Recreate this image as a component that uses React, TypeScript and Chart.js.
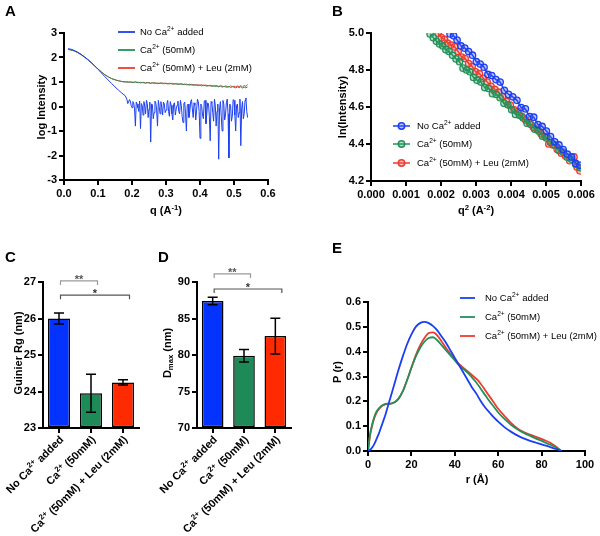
import React, { useEffect, useRef } from "react";
import { Chart, registerables } from "chart.js";

Chart.register(...registerables);

const FONT = '"Liberation Sans", Arial, Helvetica, sans-serif';
Chart.defaults.font.family = FONT;

// ---------------- shared labels ----------------
const seriesLabels = ["No Ca^{2+} added", "Ca^{2+} (50mM)", "Ca^{2+} (50mM) + Leu (2mM)"];
const lineColors = ["#1B3FF0", "#23905A", "#EE3B2F"];
const pointFills = ["rgba(60,90,255,0.35)", "rgba(40,160,95,0.35)", "rgba(240,80,70,0.35)"];
const barColors = ["#0433FF", "#1D8A58", "#FF2A00"];

// ---------------- Panel A: log intensity vs q ----------------
// blue (no Ca2+) is sampled more densely in its noisy tail
const qBlueA = [
  0.012, 0.02, 0.03, 0.04, 0.05, 0.06, 0.07, 0.08, 0.09, 0.1, 0.11, 0.12, 0.13, 0.14, 0.15, 0.16, 0.17, 0.18,
  0.185, 0.1875, 0.19, 0.1925, 0.195, 0.1975, 0.2, 0.2025, 0.205, 0.2075, 0.21, 0.2125, 0.215, 0.2175,
  0.22, 0.2225, 0.225, 0.2275, 0.23, 0.2325, 0.235, 0.2375, 0.24, 0.2425, 0.245, 0.2475, 0.25, 0.2525,
  0.255, 0.2575, 0.26, 0.2625, 0.265, 0.2675, 0.27, 0.2725, 0.275, 0.2775, 0.28, 0.2825, 0.285, 0.2875,
  0.29, 0.2925, 0.295, 0.2975, 0.3, 0.3025, 0.305, 0.3075, 0.31, 0.3125, 0.315, 0.3175, 0.32, 0.3225,
  0.325, 0.3275, 0.33, 0.3325, 0.335, 0.3375, 0.34, 0.3425, 0.345, 0.3475, 0.35, 0.3525, 0.355, 0.3575,
  0.36, 0.3625, 0.365, 0.3675, 0.37, 0.3725, 0.375, 0.3775, 0.38, 0.3825, 0.385, 0.3875, 0.39, 0.3925,
  0.395, 0.3975, 0.4, 0.4025, 0.405, 0.4075, 0.41, 0.4125, 0.415, 0.4175, 0.42, 0.4225, 0.425, 0.4275,
  0.43, 0.4325, 0.435, 0.4375, 0.44, 0.4425, 0.445, 0.4475, 0.45, 0.4525, 0.455, 0.4575, 0.46, 0.4625,
  0.465, 0.4675, 0.47, 0.4725, 0.475, 0.4775, 0.48, 0.4825, 0.485, 0.4875, 0.49, 0.4925, 0.495, 0.4975,
  0.5, 0.5025, 0.505, 0.5075, 0.51, 0.5125, 0.515, 0.5175, 0.52, 0.5225, 0.525, 0.5275, 0.53, 0.5325,
  0.535, 0.5375, 0.54,
];
const logBlue = [
  2.36, 2.34, 2.29, 2.22, 2.13, 2.03, 1.92, 1.8, 1.66, 1.52, 1.37, 1.22, 1.08, 0.94, 0.8, 0.67, 0.55, 0.44,
  0.3, 0.12, 0.18, 0.28, 0.22, 0.05, -0.05, 0.2, 0.15, -0.1, -0.8, 0.18, 0.1, -0.05,
  -0.2, 0.22, -0.9, 0.12, 0.05, -0.35, 0.2, 0.02, -0.3, 0.25, 0.12, -0.45, -0.1, 0.18,
  -1.45, 0.1, 0.08, -0.5, -0.25, 0.22, 0.15, -0.15, -0.8, 0.25, 0.0, -0.3, 0.2, -0.05,
  -0.35, 0.18, 0.1, -0.25, -0.15, 0.12, 0.25, -0.2, -0.4, 0.2, 0.05, -0.3, -0.55, 0.1,
  0.15, -0.35, -0.1, 0.05, 0.22, -0.2, -0.3, 0.25, 0.05, -0.4, -0.65, 0.12, 0.18, -0.3,
  -1.0, 0.05, 0.1, -0.45, -0.2, 0.2, 0.28, -0.1, -0.45, 0.15, 0.05, -0.55, -0.15, 0.3,
  0.2, -0.2, -1.3, 0.1, 0.0, -0.35, -0.5, 0.22, 0.25, -0.7, -0.3, 0.15, 0.1, -0.4,
  -1.4, 0.2, 0.15, -0.25, -0.6, 0.3, 0.05, -0.8, -0.2, 0.1, -2.15, -0.1, 0.2, -0.4,
  -1.0, 0.25, 0.1, -0.55, -0.35, 0.15, 0.3, -0.3, -2.1, 0.1, 0.05, -0.6, -0.4, 0.28,
  0.25, -0.35, -1.0, 0.05, 0.1, -0.45, -0.25, 0.3, -1.6, -0.1, 0.2, -0.5, -0.3, 0.25,
  0.35, -0.2, -0.45,
];
const qA = [
  0.012, 0.02, 0.03, 0.04, 0.05, 0.06, 0.07, 0.08, 0.09, 0.1, 0.11, 0.12, 0.13, 0.14, 0.15, 0.16, 0.17, 0.18,
  0.185, 0.19, 0.195, 0.2, 0.205, 0.21, 0.215, 0.22, 0.225, 0.23, 0.235, 0.24, 0.245, 0.25, 0.255, 0.26,
  0.265, 0.27, 0.275, 0.28, 0.285, 0.29, 0.295, 0.3, 0.305, 0.31, 0.315, 0.32, 0.325, 0.33, 0.335, 0.34,
  0.345, 0.35, 0.355, 0.36, 0.365, 0.37, 0.375, 0.38, 0.385, 0.39, 0.395, 0.4, 0.405, 0.41, 0.415, 0.42,
  0.425, 0.43, 0.435, 0.44, 0.445, 0.45, 0.455, 0.46, 0.465, 0.47, 0.475, 0.48, 0.485, 0.49, 0.495, 0.5,
  0.505, 0.51, 0.515, 0.52, 0.525, 0.53, 0.535, 0.54,
];
const logGreen = [
  2.33, 2.31, 2.27, 2.2, 2.12, 2.02, 1.91, 1.79, 1.66, 1.53, 1.41, 1.3, 1.21, 1.14, 1.09, 1.05, 1.02, 1.0,
  1.0, 0.99, 1.01, 0.98, 0.99, 1.0, 0.97, 0.99, 0.96, 0.98,
  0.97, 0.95, 0.98, 0.96, 0.94, 0.97, 0.95, 0.96, 0.93, 0.95,
  0.96, 0.93, 0.95, 0.94, 0.92, 0.95, 0.93, 0.91, 0.94, 0.92,
  0.9, 0.93, 0.91, 0.89, 0.92, 0.88, 0.9, 0.87, 0.9, 0.86,
  0.89, 0.87, 0.85, 0.88, 0.84, 0.87, 0.85, 0.83, 0.86, 0.84,
  0.82, 0.85, 0.81, 0.84, 0.8, 0.83, 0.79, 0.82, 0.8, 0.78,
  0.82, 0.77, 0.81, 0.79, 0.76, 0.8, 0.77, 0.81, 0.75, 0.79,
  0.76, 0.8,
];
const logRed = [
  2.33, 2.31, 2.27, 2.2, 2.12, 2.02, 1.91, 1.79, 1.66, 1.53, 1.41, 1.3, 1.21, 1.14, 1.09, 1.05, 1.02, 1.01,
  1.01, 1.0, 0.99, 1.0, 0.98, 1.01, 0.99, 0.97, 0.99, 0.97,
  0.99, 0.96, 0.97, 0.98, 0.95, 0.96, 0.97, 0.94, 0.96, 0.94,
  0.95, 0.96, 0.93, 0.95, 0.94, 0.92, 0.95, 0.93, 0.91, 0.94,
  0.92, 0.9, 0.93, 0.91, 0.89, 0.92, 0.88, 0.91, 0.88, 0.9,
  0.87, 0.89, 0.88, 0.86, 0.89, 0.85, 0.88, 0.86, 0.84, 0.87,
  0.85, 0.83, 0.86, 0.84, 0.82, 0.85, 0.83, 0.81, 0.84, 0.82,
  0.8, 0.84, 0.81, 0.83, 0.8, 0.84, 0.81, 0.85, 0.8, 0.86,
  0.82, 0.9,
];

// ---------------- Panel B: Guinier plot ----------------
const q2Blue = [
  0.00226, 0.00236, 0.00246, 0.00257, 0.00268, 0.00279, 0.0029, 0.00301, 0.00312, 0.00323, 0.00334,
  0.00345, 0.00357, 0.00369, 0.00381, 0.00393, 0.00405, 0.00417, 0.00429, 0.00441, 0.00453, 0.00465,
  0.00477, 0.00489, 0.00501, 0.00513, 0.00525, 0.00537, 0.00549, 0.00561, 0.00573, 0.00585, 0.00597,
];
const lnBlue = [
  4.995, 4.985, 4.962, 4.93, 4.918, 4.9, 4.88, 4.845, 4.832, 4.815, 4.776,
  4.77, 4.748, 4.735, 4.69, 4.668, 4.655, 4.636, 4.597, 4.59, 4.548, 4.545,
  4.505, 4.495, 4.47, 4.44, 4.412, 4.395, 4.37, 4.345, 4.33, 4.295, 4.285,
];
const q2Green = [
  0.00169, 0.00178, 0.00187, 0.00196, 0.00205, 0.00214, 0.00223, 0.00233, 0.00243, 0.00253, 0.00263,
  0.00273, 0.00283, 0.00293, 0.00303, 0.00314, 0.00325, 0.00336, 0.00347, 0.00358, 0.00369, 0.0038,
  0.00391, 0.00402, 0.00413, 0.00424, 0.00435, 0.00446, 0.00457, 0.00468, 0.00479, 0.0049, 0.00501,
  0.00513, 0.00525, 0.00537, 0.00549, 0.00561, 0.00573, 0.00585, 0.00597,
];
const lnGreen = [
  4.995, 4.975, 4.955, 4.94, 4.93, 4.91, 4.9, 4.88, 4.86, 4.845, 4.81,
  4.8, 4.79, 4.76, 4.745, 4.735, 4.705, 4.7, 4.672, 4.668, 4.65, 4.62,
  4.612, 4.585, 4.56, 4.556, 4.54, 4.512, 4.505, 4.48, 4.47, 4.442, 4.432,
  4.408, 4.395, 4.365, 4.355, 4.328, 4.318, 4.29, 4.272,
];
const q2Red = [
  0.00192, 0.00201, 0.0021, 0.00219, 0.00229, 0.00239, 0.00249, 0.00259, 0.00269, 0.00279, 0.00289,
  0.00299, 0.0031, 0.00321, 0.00332, 0.00343, 0.00354, 0.00365, 0.00376, 0.00387, 0.00398, 0.00409,
  0.0042, 0.00431, 0.00442, 0.00453, 0.00464, 0.00475, 0.00486, 0.00497, 0.00508, 0.0052, 0.00532,
  0.00544, 0.00556, 0.00568, 0.0058, 0.00589, 0.00597,
];
const lnRed = [
  4.998, 4.975, 4.965, 4.945, 4.935, 4.925, 4.9, 4.87, 4.862, 4.835, 4.82,
  4.79, 4.78, 4.755, 4.735, 4.712, 4.695, 4.68, 4.655, 4.63, 4.61, 4.585,
  4.575, 4.55, 4.53, 4.515, 4.49, 4.478, 4.455, 4.44, 4.4, 4.395, 4.372,
  4.35, 4.335, 4.31, 4.33, 4.275, 4.255,
];

// ---------------- Panel C / D: bars ----------------
const rgMean = [26.0, 23.95, 24.25];
const rgErr = [0.15, 0.52, 0.07];
const dmaxMean = [87.4, 79.9, 82.6];
const dmaxErr = [0.5, 0.85, 2.45];

// ---------------- Panel E: P(r) ----------------
const rE = [
  0, 1, 2, 3, 4, 5, 6, 7, 8, 9, 10, 12, 14, 16, 18, 20, 22, 24, 26, 28, 30, 32, 34, 36, 38, 40, 42, 44, 46,
  48, 50, 52, 54, 56, 58, 60, 63, 66, 69, 72, 75, 78, 81, 84, 87, 89,
];
const pBlue = [
  0, 0.005, 0.015, 0.03, 0.05, 0.07, 0.095, 0.12, 0.145, 0.175, 0.205, 0.265, 0.325, 0.38, 0.43, 0.47,
  0.5, 0.515, 0.52, 0.515, 0.503, 0.485, 0.46, 0.435, 0.405, 0.375, 0.345, 0.315, 0.285, 0.255, 0.23,
  0.2, 0.175, 0.155, 0.135, 0.118, 0.095, 0.077, 0.062, 0.05, 0.04, 0.032, 0.024, 0.016, 0.007, 0,
];
const pGreen = [
  0, 0.07, 0.11, 0.14, 0.16, 0.172, 0.18, 0.186, 0.19, 0.191, 0.19, 0.195, 0.21, 0.24, 0.285, 0.335,
  0.38, 0.415, 0.44, 0.455, 0.458, 0.445, 0.425, 0.405, 0.385, 0.365, 0.345, 0.33, 0.315, 0.295, 0.275,
  0.25, 0.225, 0.2, 0.178, 0.155, 0.128, 0.105, 0.087, 0.072, 0.06, 0.048, 0.037, 0.025, 0.012, 0,
];
const pRed = [
  0, 0.065, 0.105, 0.135, 0.155, 0.168, 0.178, 0.184, 0.188, 0.19, 0.19, 0.195, 0.21, 0.24, 0.285, 0.335,
  0.385, 0.425, 0.455, 0.475, 0.478, 0.465, 0.44, 0.415, 0.39, 0.37, 0.35, 0.335, 0.32, 0.305, 0.29,
  0.27, 0.245, 0.22, 0.195, 0.17, 0.14, 0.112, 0.09, 0.075, 0.065, 0.055, 0.045, 0.033, 0.015, 0,
];

// ---------------- helpers ----------------
type Seg = { t: string; k: number };
function parseRich(s: string): Seg[] {
  const out: Seg[] = [];
  const re = /([\^_])\{([^}]*)\}/g;
  let last = 0;
  let m: RegExpExecArray | null;
  while ((m = re.exec(s))) {
    if (m.index > last) out.push({ t: s.slice(last, m.index), k: 0 });
    out.push({ t: m[2], k: m[1] === "^" ? 1 : -1 });
    last = m.index + m[0].length;
  }
  if (last < s.length) out.push({ t: s.slice(last), k: 0 });
  return out;
}

function drawRich(
  ctx: CanvasRenderingContext2D,
  s: string,
  x: number,
  y: number,
  o: { size: number; bold?: boolean; align?: string; rot?: number; color?: string }
) {
  const segs = parseRich(s);
  const wt = o.bold ? "bold " : "";
  const fontFor = (k: number) => `${wt}${k ? o.size * 0.7 : o.size}px ${FONT}`;
  let total = 0;
  for (const sg of segs) {
    ctx.font = fontFor(sg.k);
    total += ctx.measureText(sg.t).width;
  }
  ctx.save();
  ctx.translate(x, y);
  if (o.rot) ctx.rotate(o.rot);
  ctx.fillStyle = o.color || "#000";
  ctx.textBaseline = "middle";
  ctx.textAlign = "left";
  let cx = o.align === "center" ? -total / 2 : o.align === "right" ? -total : 0;
  for (const sg of segs) {
    ctx.font = fontFor(sg.k);
    const dy = sg.k === 1 ? -o.size * 0.32 : sg.k === -1 ? o.size * 0.3 : 0;
    ctx.fillText(sg.t, cx, dy);
    cx += ctx.measureText(sg.t).width;
  }
  ctx.restore();
}

function drawLegend(
  ctx: CanvasRenderingContext2D,
  x1: number,
  x2: number,
  tx: number,
  ys: number[],
  markers: boolean
) {
  ys.forEach((y, i) => {
    ctx.save();
    ctx.strokeStyle = lineColors[i];
    ctx.lineWidth = markers ? 1.5 : 1.8;
    ctx.beginPath();
    ctx.moveTo(x1, y);
    ctx.lineTo(x2, y);
    ctx.stroke();
    if (markers) {
      ctx.fillStyle = pointFills[i];
      ctx.beginPath();
      ctx.arc((x1 + x2) / 2, y, 3.2, 0, Math.PI * 2);
      ctx.fill();
      ctx.stroke();
    }
    ctx.restore();
    drawRich(ctx, seriesLabels[i], tx, y, { size: 9.5 });
  });
}

function axis(extra: any, fixed: { w?: number; h?: number }) {
  return {
    border: { display: true, color: "#000", width: 2 },
    grid: {
      display: true,
      drawOnChartArea: false,
      drawTicks: true,
      tickLength: 5,
      color: "#000",
      lineWidth: 2,
    },
    afterFit: (s: any) => {
      if (fixed.w !== undefined) s.width = fixed.w;
      if (fixed.h !== undefined) s.height = fixed.h;
    },
    ...extra,
    ticks: {
      color: "#000",
      font: { family: FONT, size: 11, weight: "bold" },
      padding: 2,
      ...(extra.ticks || {}),
    },
  };
}

const baseOpts = {
  animation: false,
  responsive: false,
  events: [],
  plugins: { legend: { display: false }, tooltip: { enabled: false }, title: { display: false } },
};

function xy(xs: number[], ys: number[]) {
  return xs.map((x, i) => ({ x, y: ys[i] }));
}

// ---------------- chart configs ----------------
function makeA(): any {
  const sets = [
    [qBlueA, logBlue],
    [qA, logGreen],
    [qA, logRed],
  ];
  const ds = sets.map((s, i) => ({
    data: xy(s[0], s[1]),
    borderColor: lineColors[i],
    borderWidth: 1,
    pointRadius: 0,
    tension: 0,
  }));
  return {
    type: "line",
    data: { datasets: ds },
    options: {
      ...baseOpts,
      layout: { padding: { left: 34, right: 32, top: 33, bottom: 35 } },
      scales: {
        x: axis(
          { type: "linear", min: 0, max: 0.6, ticks: { stepSize: 0.1, callback: (v: any) => Number(v).toFixed(1) } },
          { h: 30 }
        ),
        y: axis({ type: "linear", min: -3, max: 3, ticks: { stepSize: 1 } }, { w: 30 }),
      },
    },
    plugins: [
      {
        id: "ovA",
        afterDraw(chart: any) {
          const ctx = chart.ctx;
          drawRich(ctx, "A", 5, 12, { size: 15, bold: true });
          drawRich(ctx, "log Intensity", 42, 107, { size: 11, bold: true, align: "center", rot: -Math.PI / 2 });
          drawRich(ctx, "q (A^{-1})", 166, 211, { size: 11, bold: true, align: "center" });
          drawLegend(ctx, 118, 135, 140, [32, 50, 68], false);
        },
      },
    ],
  };
}

function makeB(): any {
  const sets = [
    [q2Blue, lnBlue],
    [q2Green, lnGreen],
    [q2Red, lnRed],
  ];
  const ds = sets.map((s, i) => ({
    data: xy(s[0], s[1]),
    borderColor: lineColors[i],
    borderWidth: 1.5,
    pointRadius: 3.2,
    pointBorderWidth: 1.3,
    pointBorderColor: lineColors[i],
    pointBackgroundColor: pointFills[i],
    tension: 0,
  }));
  return {
    type: "line",
    data: { datasets: ds },
    options: {
      ...baseOpts,
      layout: { padding: { left: 35, right: 19, top: 33, bottom: 29 } },
      scales: {
        x: axis(
          { type: "linear", min: 0, max: 0.006, ticks: { stepSize: 0.001, callback: (v: any) => Number(v).toFixed(3) } },
          { h: 30 }
        ),
        y: axis(
          { type: "linear", min: 4.2, max: 5.0, ticks: { stepSize: 0.2, callback: (v: any) => Number(v).toFixed(1) } },
          { w: 36 }
        ),
      },
    },
    plugins: [
      {
        id: "ovB",
        afterDraw(chart: any) {
          const ctx = chart.ctx;
          drawRich(ctx, "B", 32, 12, { size: 15, bold: true });
          drawRich(ctx, "ln(Intensity)", 43, 107, { size: 11, bold: true, align: "center", rot: -Math.PI / 2 });
          drawRich(ctx, "q^{2} (A^{-2})", 176, 211, { size: 11, bold: true, align: "center" });
          drawLegend(ctx, 93, 110, 117, [126, 144, 163], true);
        },
      },
    ],
  };
}

function bracket(
  ctx: CanvasRenderingContext2D,
  x1: number,
  x2: number,
  y: number,
  lineColor: string,
  label: string,
  textColor: string
) {
  ctx.save();
  ctx.strokeStyle = lineColor;
  ctx.lineWidth = 1.2;
  ctx.beginPath();
  ctx.moveTo(x1, y + 4);
  ctx.lineTo(x1, y);
  ctx.lineTo(x2, y);
  ctx.lineTo(x2, y + 4);
  ctx.stroke();
  ctx.fillStyle = textColor;
  ctx.font = `bold 11px ${FONT}`;
  ctx.textAlign = "center";
  ctx.textBaseline = "alphabetic";
  ctx.fillText(label, (x1 + x2) / 2, y + 2);
  ctx.restore();
}

function makeBar(
  letter: string,
  title: string,
  means: number[],
  errs: number[],
  min: number,
  max: number,
  step: number,
  pad: any,
  titleX: number,
  b1: number,
  b2: number
): any {
  return {
    type: "bar",
    data: {
      labels: seriesLabels,
      datasets: [
        {
          data: means,
          backgroundColor: barColors,
          borderColor: "#000",
          borderWidth: 1.5,
          borderSkipped: false,
          barPercentage: 0.69,
          categoryPercentage: 1,
          base: min,
        },
      ],
    },
    options: {
      ...baseOpts,
      layout: { padding: pad },
      scales: {
        x: axis(
          {
            type: "category",
            z: 1,
            grid: { display: true, drawOnChartArea: false, drawTicks: true, tickLength: 5, color: "#000", lineWidth: 2, offset: false },
            ticks: { display: false },
          },
          { h: 30 }
        ),
        y: axis({ type: "linear", min, max, ticks: { stepSize: step } }, { w: 25 }),
      },
    },
    plugins: [
      {
        id: "ov" + letter,
        afterDatasetsDraw(chart: any) {
          const ctx = chart.ctx;
          const meta = chart.getDatasetMeta(0);
          const ys = chart.scales.y;
          ctx.save();
          ctx.strokeStyle = "#000";
          ctx.lineWidth = 1.5;
          meta.data.forEach((el: any, i: number) => {
            const x = el.x;
            const yt = ys.getPixelForValue(means[i] + errs[i]);
            const yb = ys.getPixelForValue(means[i] - errs[i]);
            ctx.beginPath();
            ctx.moveTo(x, yt);
            ctx.lineTo(x, yb);
            ctx.moveTo(x - 5, yt);
            ctx.lineTo(x + 5, yt);
            ctx.moveTo(x - 5, yb);
            ctx.lineTo(x + 5, yb);
            ctx.stroke();
          });
          ctx.restore();
        },
        afterDraw(chart: any) {
          const ctx = chart.ctx;
          const meta = chart.getDatasetMeta(0);
          const ys = chart.scales.y;
          const area = chart.chartArea;
          const cx = meta.data.map((el: any) => el.x);
          drawRich(ctx, letter, letter === "C" ? 5 : 8, 13, { size: 15, bold: true });
          drawRich(ctx, title, titleX, 108, { size: 11, bold: true, align: "center", rot: -Math.PI / 2 });
          seriesLabels.forEach((lab, i) => {
            drawRich(ctx, lab, cx[i] + 3, area.bottom + 10, {
              size: 11,
              bold: true,
              align: "right",
              rot: -Math.PI / 4,
            });
          });
          bracket(ctx, cx[0] + 1.5, cx[1] + 6.5, ys.getPixelForValue(b1), "#9a9a9a", "**", "#555");
          bracket(ctx, cx[0] + 1.5, cx[2] + 6.5, ys.getPixelForValue(b2), "#555", "*", "#333");
        },
      },
    ],
  };
}

function makeE(): any {
  const ds = [pBlue, pGreen, pRed].map((arr, i) => ({
    data: xy(rE, arr),
    borderColor: lineColors[i],
    borderWidth: 1.8,
    pointRadius: 0,
    cubicInterpolationMode: "monotone",
  }));
  return {
    type: "line",
    data: { datasets: ds },
    options: {
      ...baseOpts,
      layout: { padding: { left: 38, right: 15, top: 62, bottom: 55 } },
      scales: {
        x: axis({ type: "linear", min: 0, max: 100, ticks: { stepSize: 20 } }, { h: 30 }),
        y: axis(
          { type: "linear", min: 0, max: 0.6, ticks: { stepSize: 0.1, callback: (v: any) => Number(v).toFixed(1) } },
          { w: 30 }
        ),
      },
    },
    plugins: [
      {
        id: "ovE",
        afterDraw(chart: any) {
          const ctx = chart.ctx;
          drawRich(ctx, "E", 32, 9, { size: 15, bold: true });
          drawRich(ctx, "P (r)", 38, 132, { size: 11, bold: true, align: "center", rot: -Math.PI / 2 });
          drawRich(ctx, "r (Å)", 177, 240, { size: 11, bold: true, align: "center" });
          drawLegend(ctx, 160, 175, 185, [58, 77, 96], false);
        },
      },
    ],
  };
}

function Panel({ left, top, width, height, make }: any) {
  const ref = useRef<HTMLCanvasElement>(null);
  useEffect(() => {
    const chart = new Chart(ref.current as HTMLCanvasElement, make());
    return () => chart.destroy();
  }, []);
  return (
    <canvas
      ref={ref}
      width={width}
      height={height}
      style={{ position: "absolute", left, top, width, height }}
    />
  );
}

export default function App() {
  return (
    <div style={{ position: "fixed", left: 0, top: 0, width: 600, height: 536, background: "#fff", overflow: "hidden" }}>
      <Panel left={0} top={0} width={300} height={245} make={makeA} />
      <Panel left={300} top={0} width={300} height={240} make={makeB} />
      <Panel
        left={0}
        top={245}
        width={150}
        height={291}
        make={() =>
          makeBar("C", "Guinier Rg (nm)", rgMean, rgErr, 23, 27, 1, { left: 18, right: 11, top: 37, bottom: 78 }, 19, 27.03, 26.64)
        }
      />
      <Panel
        left={150}
        top={245}
        width={150}
        height={291}
        make={() =>
          makeBar("D", "D_{max} (nm)", dmaxMean, dmaxErr, 70, 90, 5, { left: 22, right: 9, top: 37, bottom: 78 }, 18, 91.1, 89.04)
        }
      />
      <Panel left={300} top={240} width={300} height={296} make={makeE} />
    </div>
  );
}
